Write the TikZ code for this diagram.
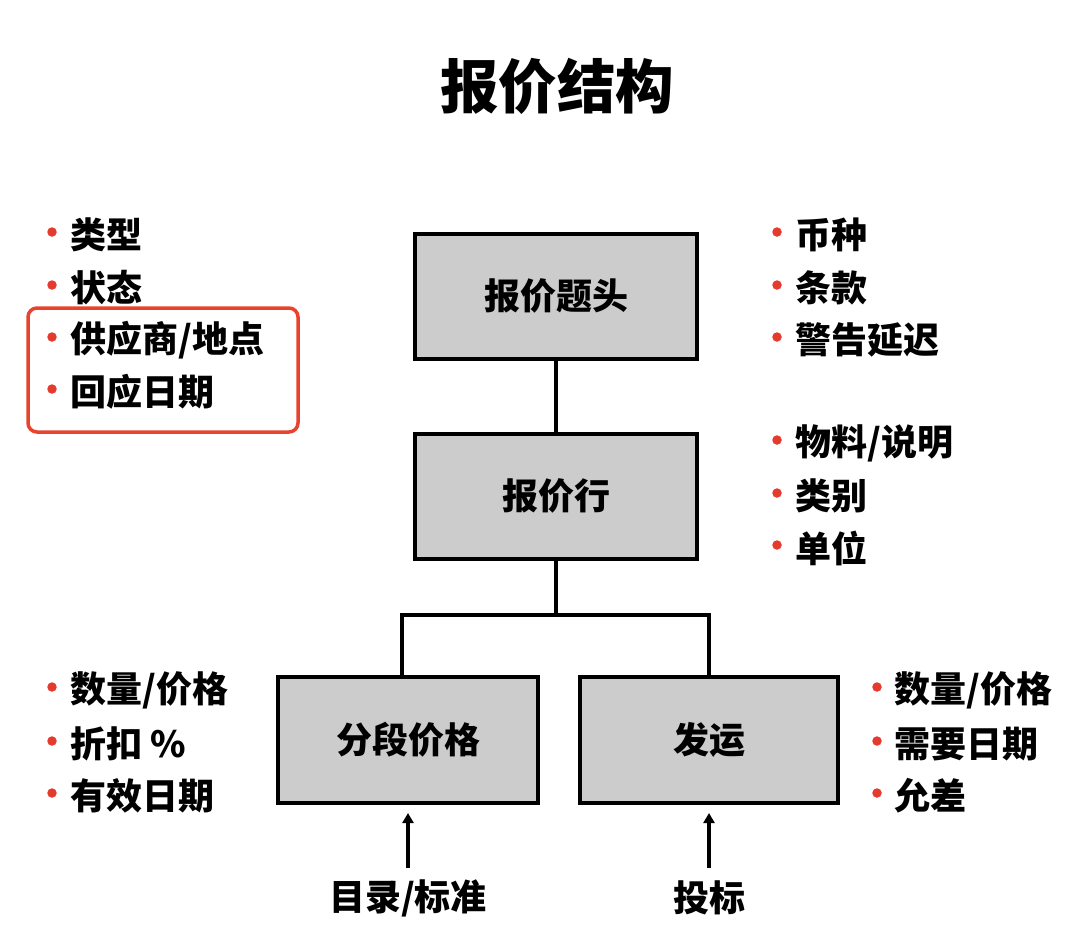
\documentclass[tikz,border=0pt]{standalone}
\usepackage{fontspec}
\setmainfont{Noto Sans CJK SC}
\usetikzlibrary{arrows.meta}
\definecolor{boxgray}{HTML}{CCCCCC}
\definecolor{bulletred}{HTML}{E53A2E}
\definecolor{framered}{HTML}{E8432F}
\begin{document}
\begin{tikzpicture}[x=1pt,y=-1pt,
  entity/.style={draw=black,line width=4pt,fill=boxgray,inner sep=0pt,
    font=\fontsize{36}{42}\selectfont\bfseries},
  item/.style={anchor=west,inner sep=0pt,font=\fontsize{36}{42}\selectfont\bfseries},
  dot/.style={circle,fill=bulletred,inner sep=0pt,minimum size=9.5pt},
  link/.style={line width=4pt},
  feed/.style={line width=4pt,-{Triangle[length=10pt,width=11pt]}},
  label/.style={inner sep=0pt,font=\fontsize{36}{42}\selectfont\bfseries}]
\useasboundingbox (0,0) rectangle (1080,946);

\node[inner sep=0pt,font=\fontsize{58.5}{66}\selectfont\bfseries] (title) at (557,86) {报价结构};

% boxes
\node[entity,minimum width=282pt,minimum height=125pt] (head) at (556,296) {报价题头};
\node[entity,minimum width=282pt,minimum height=125pt] (line) at (556,496) {报价行};
\node[entity,minimum width=260pt,minimum height=126pt] (price) at (408,740) {分段价格};
\node[entity,minimum width=258pt,minimum height=126pt] (ship) at (709,740) {发运};

% connectors
\coordinate (jn) at (556,615);
\coordinate (jl) at (402,615);
\coordinate (jr) at (709,615);
\draw[link] (head.south) -- (line.north);
\draw[link] (line.south) -- (jn);
\draw[link,line join=miter] (price.north -| jl) -- (jl) -- (jr) -- (ship.north -| jr);

% inputs
\node[label] (cat) at (408,898) {目录/标准};
\node[label] (bid) at (709,898) {投标};
\coordinate (ca) at (408,868);
\coordinate (ba) at (709,868);
\draw[feed] (ca) -- ([yshift=-8pt]price.south);
\draw[feed] (ba) -- ([yshift=-8pt]ship.south);

% red frame
\draw[framered,line width=3.5pt,rounded corners=9pt] (28,308) rectangle (298,432);

% left top list
\foreach \t/\y/\n in {{类型}/235/a,{状态}/288/b,{供应商/地点}/340/c,{回应日期}/392/d}{
  \node[dot] (ld\n) at (52,\y-3) {};
  \node[item] (lt\n) at (70,\y) {\t};
}
% right top list
\foreach \t/\y/\n in {{币种}/235/a,{条款}/288/b,{警告延迟}/340/c}{
  \node[dot] (rd\n) at (777,\y-3) {};
  \node[item] (rt\n) at (795,\y) {\t};
}
% right middle list
\foreach \t/\y/\n in {{物料/说明}/443/a,{类别}/496/b,{单位}/548/c}{
  \node[dot] (md\n) at (777,\y-3) {};
  \node[item] (mt\n) at (795,\y) {\t};
}
% left bottom list
\foreach \t/\y/\n in {{数量/价格}/690/a,{折扣 \%}/744/b,{有效日期}/796/c}{
  \node[dot] (bd\n) at (52,\y-3) {};
  \node[item] (bt\n) at (70,\y) {\t};
}
% right bottom list
\foreach \t/\y/\n in {{数量/价格}/690/a,{需要日期}/744/b,{允差}/796/c}{
  \node[dot] (sd\n) at (877,\y-3) {};
  \node[item] (st\n) at (894,\y) {\t};
}
\end{tikzpicture}
\end{document}
